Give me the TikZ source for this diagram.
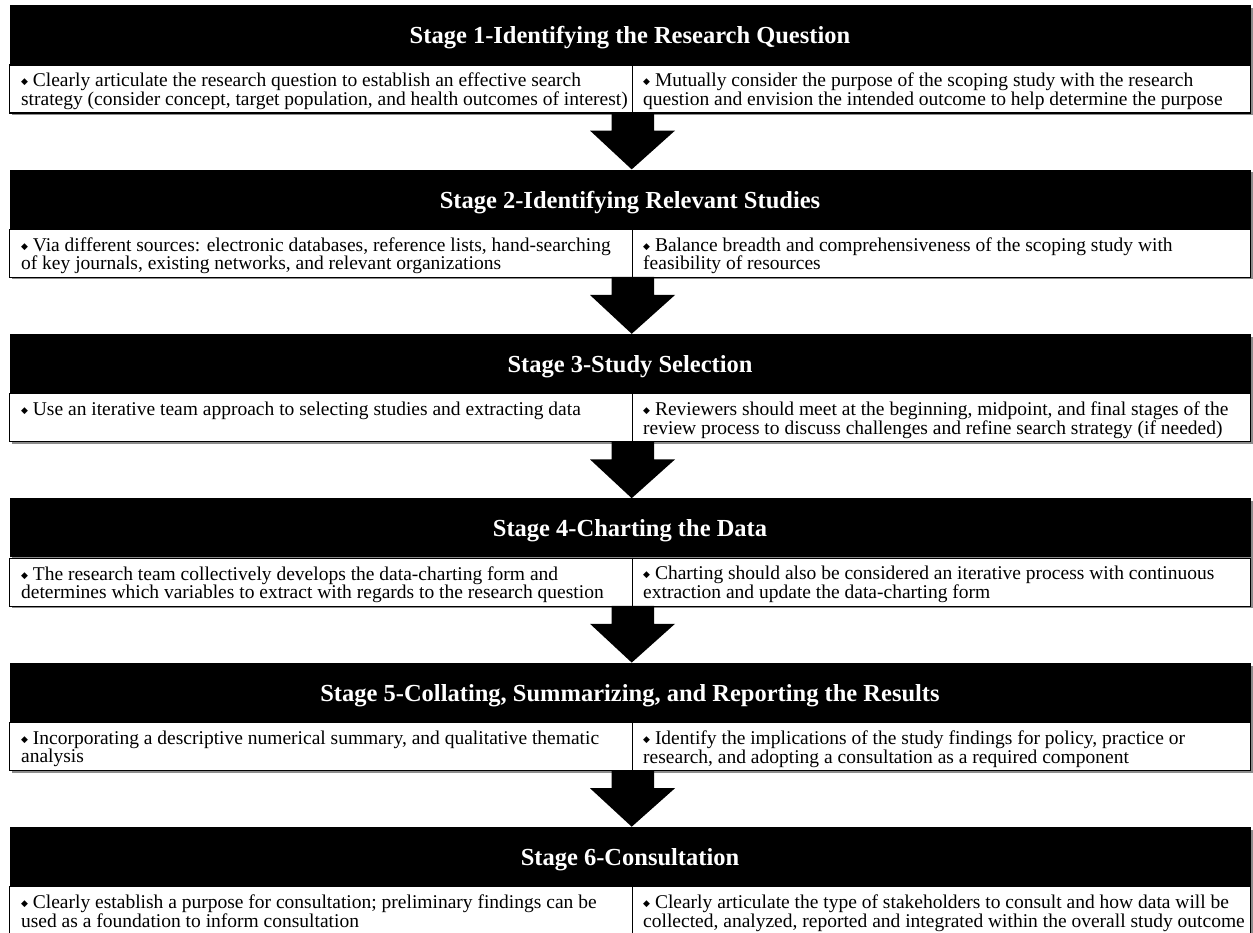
\documentclass[tikz,border=0pt]{standalone}
\usepackage{fontspec}
\setmainfont{Liberation Serif}
\newfontfamily\symfont{DejaVu Sans}
\usetikzlibrary{calc}
\newcommand{\dbul}{{\symfont\fontsize{9}{9}\selectfont\raisebox{0.22em}{◆}}}
\newcommand{\bodyfont}{\fontsize{19.5}{18.6}\selectfont\lineskiplimit=-20pt\relax}
\newcommand{\lowered}[1]{\raisebox{-3pt}[\height][\depth]{#1}}
\tikzset{
  hdr/.style={fill=black, text=white, font=\bfseries\fontsize{24.5}{26}\selectfont,
    minimum width=1241pt, minimum height=59pt, inner sep=0pt, anchor=north},
  row/.style={draw=black, line width=1.2pt, fill=white, minimum width=1241pt,
    minimum height=48pt, inner sep=0pt, anchor=north},
  txt/.style={anchor=north west, align=left, inner sep=0pt, text=black,
    font=\bodyfont},
  shadowbox/.style={fill=black!45},
  divider/.style={draw=black, line width=1.2pt},
  blockarrow/.style={fill=black}
}
% #1 id, #2 top y, #3 title, #4 left text, #5 right text
\newcommand{\mystage}[5]{%
  \fill[shadowbox] (12,#2+3) rectangle (1252.5,#2+110);
  \node[hdr] (h#1) at (630,#2) {\lowered{#3}};
  \node[row] (t#1) at (h#1.south) {};
  \coordinate (d#1) at ($(t#1.north)+(2.7,0)$);
  \draw[divider] (d#1) -- (d#1 |- t#1.south);
  \node[txt] (l#1) at ($(t#1.north west)+(12,8.5)$) {#4};
  \node[txt] (r#1) at ($(t#1.north)+(13,8.5)$) {#5};
}
% #1 upper row node, #2 lower header node
\newcommand{\myarrow}[2]{%
  \fill[blockarrow] ($(#1.south)+(-18.5,-1)$) -- ($(#1.south)+(24,-1)$)
    -- ($(#1.south)+(24,17)$) -- ($(#1.south)+(45,17)$)
    -- ($(#2.north)+(1.7,0)$)
    -- ($(#1.south)+(-40,17)$) -- ($(#1.south)+(-18.5,17)$) -- cycle;
}
\begin{document}
\begin{tikzpicture}[x=1pt,y=-1pt]
\useasboundingbox (0,0) rectangle (1253,933);
\mystage{1}{5}{Stage 1-Identifying the Research Question}
  {\dbul{} Clearly articulate the research question to establish an effective search\\strategy (consider concept, target population, and health outcomes of interest)}
  {\dbul{} Mutually consider the purpose of the scoping study with the research\\question and envision the intended outcome to help determine the purpose}
\mystage{2}{169.4}{Stage 2-Identifying Relevant Studies}
  {\dbul{} Via different sources: electronic databases, reference lists, hand-searching\\of key journals, existing networks, and relevant organizations}
  {\dbul{} Balance breadth and comprehensiveness of the scoping study with\\feasibility of resources}
\mystage{3}{333.8}{Stage 3-Study Selection}
  {\dbul{} Use an iterative team approach to selecting studies and extracting data}
  {\dbul{} Reviewers should meet at the beginning, midpoint, and final stages of the\\review process to discuss challenges and refine search strategy (if needed)}
\mystage{4}{498.2}{Stage 4-Charting the Data}
  {\dbul{} The research team collectively develops the data-charting form and\\determines which variables to extract with regards to the research question}
  {\dbul{} Charting should also be considered an iterative process with continuous\\extraction and update the data-charting form}
\mystage{5}{662.6}{Stage 5-Collating, Summarizing, and Reporting the Results}
  {\dbul{} Incorporating a descriptive numerical summary, and qualitative thematic\\analysis}
  {\dbul{} Identify the implications of the study findings for policy, practice or\\research, and adopting a consultation as a required component}
\mystage{6}{826.7}{Stage 6-Consultation}
  {\dbul{} Clearly establish a purpose for consultation; preliminary findings can be\\used as a foundation to inform consultation}
  {\dbul{} Clearly articulate the type of stakeholders to consult and how data will be\\collected, analyzed, reported and integrated within the overall study outcome}
\myarrow{t1}{h2}
\myarrow{t2}{h3}
\myarrow{t3}{h4}
\myarrow{t4}{h5}
\myarrow{t5}{h6}
\end{tikzpicture}
\end{document}
